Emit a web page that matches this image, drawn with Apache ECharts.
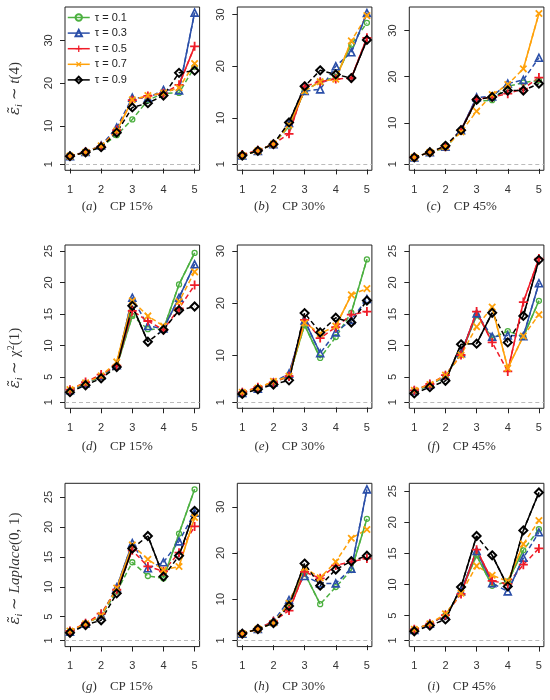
<!DOCTYPE html>
<html><head><meta charset="utf-8">
<script src="https://cdn.jsdelivr.net/npm/echarts@6/dist/echarts.min.js"></script>
<style>html,body{margin:0;padding:0;background:#fff}#c{width:550px;height:700px}</style>
</head><body><div id="c"></div>
<script>
// ---------- data ----------
const xValues = [1, 1.5, 2, 2.5, 3, 3.5, 4, 4.5, 5];
const xTicks = [1, 2, 3, 4, 5];
const yTicks30 = [1, 10, 20, 30];
const yTicks25 = [1, 5, 10, 15, 20, 25];
const tauNames = ['τ = 0.1', 'τ = 0.3', 'τ = 0.5', 'τ = 0.7', 'τ = 0.9'];
const panelLetters = ['a', 'b', 'c', 'd', 'e', 'f', 'g', 'h', 'i'];
const cpLabels = ['CP 15%', 'CP 30%', 'CP 45%'];
const baseline = 1;

// rows: tau 0.1, 0.3, 0.5, 0.7, 0.9
const panelA = [
  [2.9, 3.8, 5.1, 7.8, 11.5, 16.0, 17.6, 17.7, 23.8],
  [2.9, 3.9, 5.4, 9.6, 16.6, 16.5, 18.4, 18.3, 36.5],
  [2.9, 3.9, 5.2, 9.0, 16.0, 17.0, 17.6, 19.6, 28.6],
  [2.9, 3.8, 5.3, 8.8, 16.1, 17.1, 17.7, 18.9, 24.6],
  [2.9, 3.8, 5.0, 8.4, 14.3, 15.3, 17.1, 22.4, 22.9]
];
const panelB = [
  [2.7, 3.6, 4.9, 8.3, 15.3, 17.0, 17.9, 24.2, 28.4],
  [2.7, 3.6, 4.9, 9.0, 15.2, 15.5, 20.0, 22.7, 30.3],
  [2.9, 3.7, 4.9, 6.9, 16.1, 17.0, 17.5, 17.7, 25.5],
  [2.7, 3.6, 4.9, 8.6, 15.2, 17.0, 17.5, 24.9, 29.8],
  [2.7, 3.6, 4.9, 9.1, 16.1, 19.2, 18.4, 17.7, 25.1]
];
const panelC = [
  [2.5, 3.6, 4.5, 8.4, 14.7, 14.9, 17.9, 18.7, 19.2],
  [2.5, 3.6, 4.8, 8.4, 15.5, 15.7, 18.5, 19.3, 24.1],
  [2.5, 3.6, 4.8, 8.4, 15.1, 15.6, 16.3, 17.4, 19.8],
  [2.5, 3.6, 4.8, 8.0, 12.5, 16.1, 18.3, 21.7, 33.7],
  [2.5, 3.6, 5.0, 8.4, 15.0, 15.6, 17.0, 17.0, 18.5]
];
const panelD = [
  [2.8, 3.9, 5.1, 6.7, 14.7, 12.6, 12.6, 19.7, 24.7],
  [2.9, 4.0, 5.2, 6.9, 17.6, 13.1, 12.7, 17.6, 22.9],
  [3.0, 4.2, 5.4, 6.8, 15.5, 13.9, 12.5, 15.9, 19.6],
  [3.0, 4.1, 5.2, 7.4, 17.1, 14.7, 13.1, 17.0, 21.7],
  [2.6, 3.7, 4.8, 6.6, 16.3, 10.6, 12.5, 15.6, 16.2]
];
const panelE = [
  [2.8, 3.6, 4.8, 6.0, 15.8, 9.5, 13.5, 18.2, 28.4],
  [2.8, 3.6, 4.8, 6.5, 16.7, 10.4, 14.4, 16.8, 20.8],
  [2.9, 3.9, 4.8, 6.0, 16.8, 13.3, 15.4, 17.8, 18.4],
  [2.9, 3.7, 5.0, 6.0, 16.2, 14.2, 15.6, 21.6, 22.8],
  [2.6, 3.5, 4.4, 5.2, 18.1, 14.4, 17.2, 16.3, 20.5]
];
const panelF = [
  [2.7, 3.7, 5.1, 8.7, 14.8, 11.2, 12.3, 11.4, 17.1],
  [2.8, 3.8, 5.2, 8.8, 15.1, 11.4, 11.6, 11.5, 19.9],
  [2.9, 3.9, 5.3, 8.5, 15.4, 10.5, 5.9, 16.9, 23.8],
  [2.9, 3.8, 5.3, 8.5, 13.0, 16.1, 6.4, 11.5, 14.9],
  [2.4, 3.4, 4.4, 10.2, 10.3, 15.2, 10.5, 14.7, 23.6]
];
const panelG = [
  [2.5, 3.8, 5.1, 9.2, 14.1, 11.8, 11.4, 18.9, 26.3],
  [2.5, 3.8, 5.3, 9.9, 17.3, 13.1, 14.1, 17.6, 22.4],
  [2.6, 3.9, 5.5, 9.5, 16.1, 13.4, 12.6, 15.7, 20.1],
  [2.6, 3.8, 5.2, 9.8, 17.0, 14.6, 12.8, 13.4, 21.6],
  [2.3, 3.6, 4.4, 8.9, 16.4, 18.5, 11.7, 15.2, 22.7]
];
const panelH = [
  [2.5, 3.5, 4.8, 9.0, 15.6, 8.9, 12.6, 16.3, 27.4],
  [2.5, 3.5, 5.2, 9.8, 15.0, 13.4, 13.4, 16.6, 33.8],
  [2.5, 3.5, 5.2, 7.5, 15.9, 14.5, 17.3, 18.1, 18.8],
  [2.5, 3.5, 4.8, 9.1, 16.8, 14.6, 18.1, 23.2, 25.1],
  [2.5, 3.5, 4.8, 8.5, 17.7, 12.9, 16.4, 18.2, 19.4]
];
const panelI = [
  [2.7, 3.7, 5.1, 8.9, 14.7, 9.8, 10.5, 15.5, 18.9],
  [2.7, 3.7, 5.1, 8.9, 15.4, 10.2, 8.9, 14.3, 18.4],
  [2.8, 3.7, 5.1, 8.5, 15.6, 10.6, 10.1, 13.2, 15.8],
  [2.8, 3.7, 5.3, 8.6, 13.0, 11.5, 10.5, 16.5, 20.3],
  [2.5, 3.4, 4.4, 9.6, 17.8, 14.7, 9.7, 18.7, 24.8]
];
const panels = [panelA, panelB, panelC, panelD, panelE, panelF, panelG, panelH, panelI];
const panelYUpper = [36.4, 30.3, 33.8, 25.0, 30.0, 25.0, 26.3, 33.8, 25.3];
const panelYTicks = [yTicks30, yTicks30, yTicks30, yTicks25, yTicks30, yTicks25, yTicks25, yTicks30, yTicks25];

// ---------- styling / layout ----------
const colors = ['#4cb040', '#2a4ea8', '#f01c28', '#ffa10a', '#000000'];
const plusPath = 'path://M4,0H6V4H10V6H6V10H4V6H0V4H4Z';
const symbolDefs = [
  { symbol: 'circle', size: 5, hollow: true, bw: 1.3, rot: 0 },
  { symbol: 'triangle', size: 7, hollow: true, bw: 1.6, rot: 0 },
  { symbol: plusPath, size: 9, hollow: false, bw: 0, rot: 0 },
  { symbol: plusPath, size: 9, hollow: false, bw: 0, rot: 45 },
  { symbol: 'diamond', size: 8, hollow: true, bw: 2, rot: 0 }
];
const colLeft = [65, 237.3, 409.3];
const rowTop = [7, 245, 483.3];
const gw = 134.6, gh = 163.3;
const labelY = [206.5, 446.5, 687];
const rowTitleY = [88.5, 358, 568.5];
const steepPx = 30;           // segments rising/falling more than this look solid
const sans = 'Liberation Sans';
const serif = 'Liberation Serif';

const grids = [], xAxes = [], yAxes = [], series = [], overlays = [], graphics = [];
for (let p = 0; p < 9; p++) {
  const r = Math.floor(p / 3), c = p % 3;
  grids.push({ left: colLeft[c], top: rowTop[r], width: gw, height: gh, show: true,
    borderColor: '#222', borderWidth: 1, backgroundColor: 'transparent' });
  xAxes.push({ type: 'value', gridIndex: p, min: 1 - 0.16, max: 5 + 0.16,
    axisLine: { show: false }, splitLine: { show: false },
    axisTick: { show: true, length: 5, customValues: xTicks, lineStyle: { color: '#222' } },
    axisLabel: { customValues: xTicks, margin: 14, fontSize: 11, fontFamily: sans, color: '#333' } });
  const M = panelYUpper[p], pad = 0.04 * (M - baseline);
  const yMin = baseline - pad, yMax = M + pad;
  const pxPerUnit = gh / (yMax - yMin);
  yAxes.push({ type: 'value', gridIndex: p, min: yMin, max: yMax,
    axisLine: { show: false }, splitLine: { show: false },
    axisTick: { show: true, length: 5, customValues: panelYTicks[p], lineStyle: { color: '#222' } },
    axisLabel: { customValues: panelYTicks[p], rotate: 90, margin: 11, fontSize: 11, fontFamily: sans, color: '#333' } });
  for (let k = 0; k < 5; k++) {
    const sd = symbolDefs[k];
    const vals = panels[p][k];
    const s = {
      type: 'line', name: tauNames[k], xAxisIndex: p, yAxisIndex: p,
      data: xValues.map((x, i) => [x, vals[i]]),
      symbol: sd.symbol, symbolSize: sd.size, symbolRotate: sd.rot, showAllSymbol: true,
      lineStyle: { color: colors[k], width: 1.5, type: [5, 3] },
      itemStyle: sd.hollow ? { color: 'rgba(255,255,255,0)', borderColor: colors[k], borderWidth: sd.bw }
                           : { color: colors[k], borderWidth: 0 },
      emphasis: { disabled: true }, animation: false, z: 4
    };
    if (k === 0) {
      s.markLine = { silent: true, symbol: ['none', 'none'], label: { show: false },
        lineStyle: { color: '#bbbbbb', type: [4, 3], width: 1 }, data: [{ yAxis: baseline }], z: 1 };
    }
    series.push(s);
    // steep segments drawn solid on top of the dashed line
    for (let i = 0; i < xValues.length - 1; i++) {
      if (Math.abs(vals[i + 1] - vals[i]) * pxPerUnit >= steepPx) {
        overlays.push({ type: 'line', xAxisIndex: p, yAxisIndex: p, silent: true,
          data: [[xValues[i], vals[i]], [xValues[i + 1], vals[i + 1]]],
          symbol: 'none', lineStyle: { color: colors[k], width: 1.5, type: 'solid' },
          emphasis: { disabled: true }, animation: false, z: 4 });
      }
    }
  }
  graphics.push({ type: 'text', x: colLeft[c] + gw / 2 - 15, y: labelY[r],
    style: { text: '({i|' + panelLetters[p] + '})    ' + cpLabels[c], align: 'center', verticalAlign: 'middle',
      font: '13px ' + serif, fill: '#333',
      rich: { i: { fontStyle: 'italic', fontSize: 13, fontFamily: serif, fill: '#333' } } } });
}

const rowTitles = [
  '{e|ε̃}{s|i}{n| ∼ }{v|t}{n|(4)}',
  '{e|ε̃}{s|i}{n| ∼ χ}{sp|2}{n|(1)}',
  '{e|ε̃}{s|i}{n| ∼ }{v|Laplace}{n|(0, 1)}'
];
const titleRich = {
  e: { fontStyle: 'italic', fontSize: 15, fontFamily: 'DejaVu Serif', fill: '#333', height: 18 },
  v: { fontStyle: 'italic', fontSize: 15, fontFamily: serif, fill: '#333', height: 18 },
  n: { fontSize: 15, fontFamily: serif, fill: '#333', height: 18 },
  s: { fontStyle: 'italic', fontSize: 10, fontFamily: serif, fill: '#333', height: 18, padding: [8, 0, 0, 0] },
  sp: { fontSize: 10, fontFamily: serif, fill: '#333', height: 18, padding: [0, 0, 8, 0] }
};
for (let r = 0; r < 3; r++) {
  graphics.push({ type: 'text', x: 15, y: rowTitleY[r], rotation: Math.PI / 2,
    style: { text: rowTitles[r], align: 'center', verticalAlign: 'middle', font: '15px ' + serif, fill: '#333', rich: titleRich } });
}

const chart = echarts.init(document.getElementById('c'));
chart.setOption({
  animation: false,
  backgroundColor: '#fff',
  grid: grids, xAxis: xAxes, yAxis: yAxes, series: series.concat(overlays), graphic: graphics,
  legend: {
    data: tauNames, orient: 'vertical', left: 67, top: 12, padding: 0,
    itemWidth: 22, itemHeight: 8, itemGap: 4.6,
    textStyle: { fontSize: 11, fontFamily: sans, color: '#222', lineHeight: 8 },
    lineStyle: { type: 'solid', width: 1.5 },
    selectedMode: false
  }
});
</script></body></html>
